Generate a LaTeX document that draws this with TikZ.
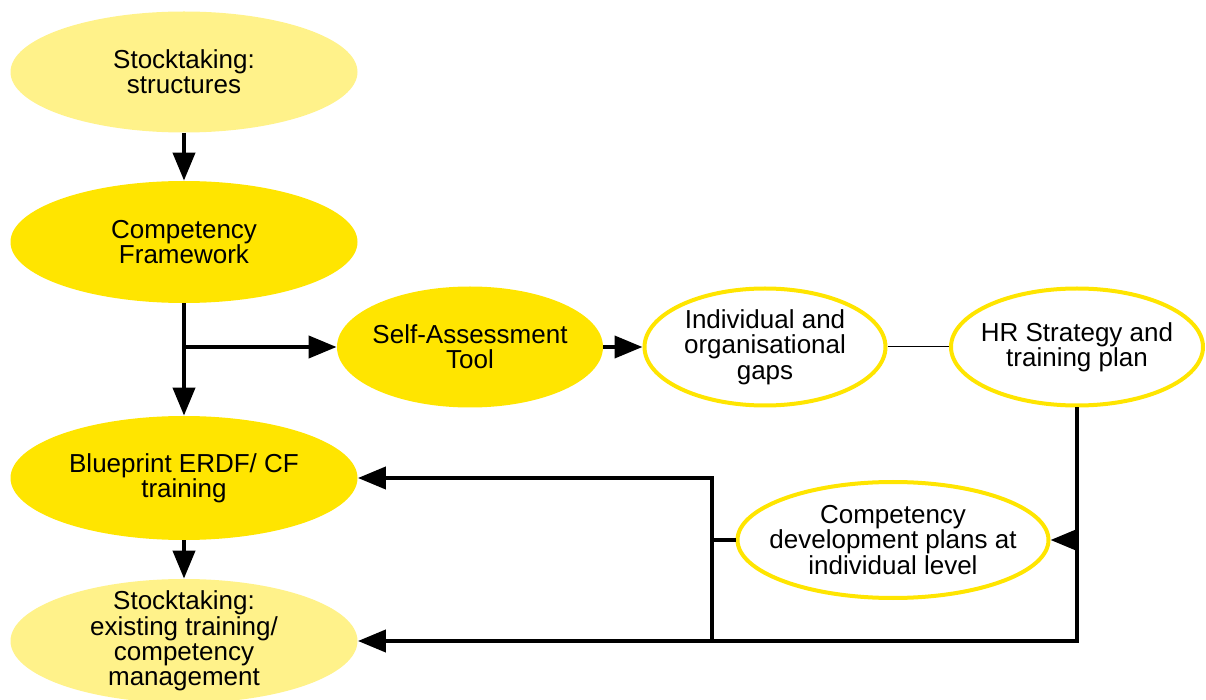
\documentclass[tikz,border=0pt]{standalone}
\usepackage{fontspec}
\setmainfont{Liberation Sans}
\usetikzlibrary{arrows.meta,shapes.geometric}
\definecolor{ylight}{RGB}{255,242,138}
\definecolor{ybright}{RGB}{255,229,0}
\tikzset{
  ell/.style={ellipse, inner sep=0pt, draw=none},
  lightell/.style={ell, fill=ylight},
  brightell/.style={ell, fill=ybright},
  openell/.style={ellipse, inner sep=0pt, draw=ybright, line width=2pt, fill=white},
  txt/.style={align=center, font=\fontsize{13}{12.7}\selectfont, inner sep=0pt},
  conn/.style={line width=2pt, black},
  arr/.style={conn, -{Triangle[length=14pt,width=11pt]}},
  thinconn/.style={line width=0.5pt, black},
}
\begin{document}
\begin{tikzpicture}[x=0.5pt,y=-0.5pt]
\useasboundingbox (0,0) rectangle (1206,700);
% nodes
\node[lightell, minimum width=173.5pt, minimum height=60.5pt,
  label={[txt]center:Stocktaking:\\structures}] (s1) at (184,72) {};
\node[brightell, minimum width=173.5pt, minimum height=61pt,
  label={[txt]center:Competency\\Framework}] (cf) at (184,242) {};
\node[brightell, minimum width=133pt, minimum height=60.5pt,
  label={[txt]center:Self-Assessment\\Tool}] (sa) at (470,347) {};
\node[openell, minimum width=120.5pt, minimum height=58.5pt,
  label={[txt]center:Individual and\\organisational\\gaps}] (gap) at (765,347) {};
\node[openell, minimum width=126pt, minimum height=58.5pt,
  label={[txt]center:HR Strategy and\\training plan}] (hr) at (1077,347) {};
\node[brightell, minimum width=173.5pt, minimum height=62pt,
  label={[txt]center:Blueprint ERDF/ CF\\training}] (bp) at (184,478) {};
\node[openell, minimum width=155.5pt, minimum height=58pt,
  label={[txt]center:Competency\\development plans at\\individual level}] (cd) at (893,540) {};
\node[lightell, minimum width=173.5pt, minimum height=62pt,
  label={[txt]center:Stocktaking:\\existing training/\\competency\\management}] (st2) at (184,641) {};
% connectors
\draw[arr] (s1.south) -- (cf.north);
\draw[arr] (cf.south) -- (bp.north);
\coordinate (j1) at (184,347);
\draw[arr] (j1) -- (sa.west);
\draw[arr] (sa.east) -- (gap.west);
\draw[thinconn] (gap.east) -- (hr.west);
\draw[arr] (hr.south) |- (st2.east);
\draw[arr] (hr.south |- cd.east) -- (cd.east);
\coordinate (j2) at (712,540);
\draw[conn] (cd.west) -- (j2);
\draw[arr] (j2 |- st2.east) -- (j2 |- bp.east) -- (bp.east);
\draw[arr] (bp.south) -- (st2.north);
\end{tikzpicture}
\end{document}
